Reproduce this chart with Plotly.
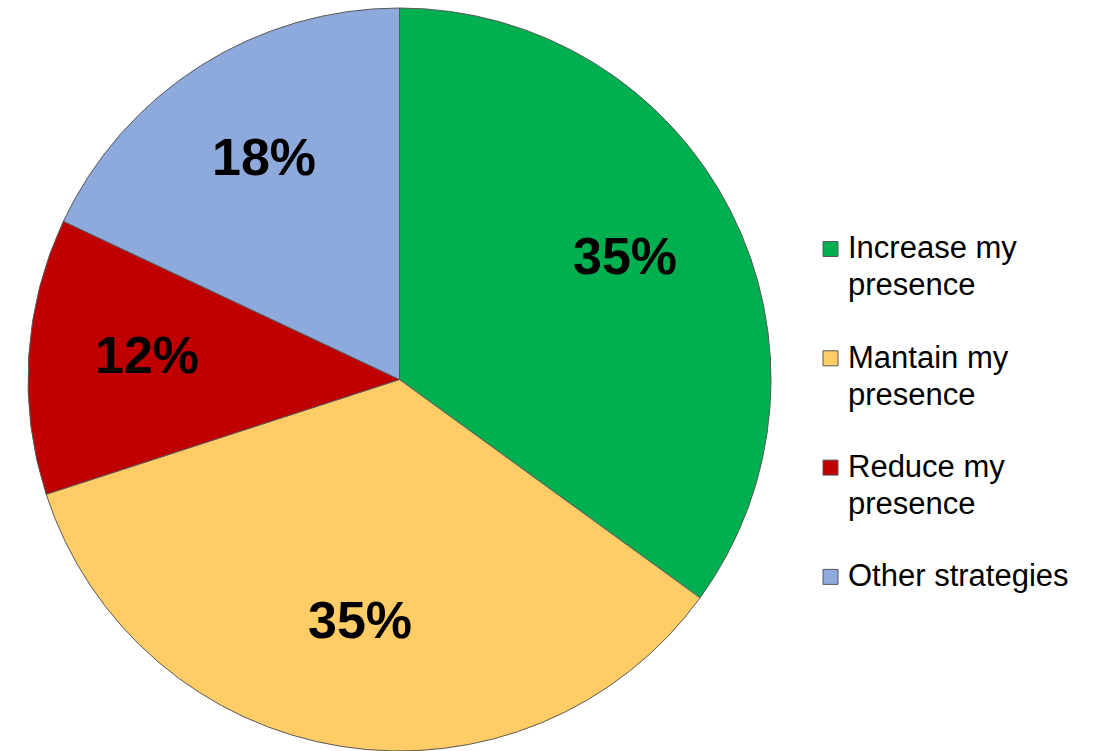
import math
import plotly.graph_objects as go

# Survey answers and their shares (percent)
labels = ["Increase my<br>presence", "Mantain my<br>presence", "Reduce my<br>presence", "Other strategies"]
values = [35, 35, 12, 18]
colors = ["#00B050", "#FFCC66", "#C00000", "#8EA9DB"]

W, H = 1101, 751
M_TOP, M_BOT, M_L, M_R = 8, 0, 0, 0
DOM_X = [0, 799 / W]
FONT = "Liberation Sans, Arial, sans-serif"

fig = go.Figure(
    go.Pie(
        labels=[lab.replace("<br>", " ") for lab in labels],
        values=values,
        sort=False,
        direction="clockwise",
        rotation=0,
        marker=dict(colors=colors, line=dict(color="#595959", width=1)),
        textinfo="none",
        hoverinfo="label+percent",
        domain=dict(x=DOM_X, y=[0, 1]),
        showlegend=False,
    )
)

plot_w = W - M_L - M_R
plot_h = H - M_TOP - M_BOT


def to_paper(px, py):
    """Pixel position inside the plot area -> paper coordinates."""
    return px / plot_w, 1 - py / plot_h


# Percentage labels placed along each slice's mid angle
cx = (DOM_X[0] + DOM_X[1]) / 2 * plot_w
cy = plot_h / 2
R = min((DOM_X[1] - DOM_X[0]) * plot_w, plot_h) / 2
TEXT_LIFT = 9  # raise glyphs so digits sit centred on the anchor point
total = sum(values)
acc = 0
annotations = []
for v in values:
    mid = (acc + v / 2) / total * 2 * math.pi
    acc += v
    rr = 0.68 * R
    x, y = to_paper(cx + rr * math.sin(mid), cy - rr * math.cos(mid) - TEXT_LIFT)
    annotations.append(
        dict(
            x=x, y=y, xref="paper", yref="paper",
            text=f"<b>{round(v / total * 100)}%</b>",
            showarrow=False,
            font=dict(size=52, color="black", family=FONT),
            xanchor="center", yanchor="middle",
        )
    )

# Hand-built legend: square swatch plus text lines for each entry
shapes = []
LEG_TOP = 240          # centre of first text line (px, from top of plot area)
ENTRY_STEP = 109.3
LINE_STEP = 37
SW = 15
for i, (lab, col) in enumerate(zip(labels, colors)):
    y0 = LEG_TOP + i * ENTRY_STEP
    xa, ya = to_paper(823, y0 - SW / 2 + 1)
    xb, yb = to_paper(823 + SW, y0 + SW / 2 + 1)
    shapes.append(
        dict(type="rect", xref="paper", yref="paper", x0=xa, x1=xb, y0=yb, y1=ya,
             fillcolor=col, line=dict(color="#595959", width=1))
    )
    for j, line in enumerate(lab.split("<br>")):
        tx, ty = to_paper(846, y0 + j * LINE_STEP)
        annotations.append(
            dict(
                x=tx, y=ty, xref="paper", yref="paper",
                text=line, showarrow=False,
                font=dict(size=31, color="black", family=FONT),
                xanchor="left", yanchor="middle",
            )
        )

fig.update_layout(
    width=W,
    height=H,
    margin=dict(l=M_L, r=M_R, t=M_TOP, b=M_BOT),
    paper_bgcolor="white",
    plot_bgcolor="white",
    annotations=annotations,
    shapes=shapes,
)

fig.write_html("out.html")
